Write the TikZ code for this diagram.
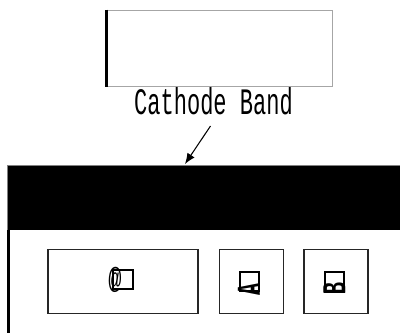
\documentclass[tikz,border=0pt]{standalone}
\usepackage{fontspec}
\setmonofont{Liberation Mono}
\usetikzlibrary{positioning,arrows.meta}

\tikzset{
  keybox/.style={shape=rectangle,draw=black!85,line width=0.8pt,fill=white,inner sep=0pt},
  keyglyph/.style={shape=rectangle,draw=black,line width=1.3pt,inner sep=0pt,minimum width=14.5pt,minimum height=14.5pt},
  keyletter/.style={font=\ttfamily\bfseries\fontsize{25}{25}\selectfont,inner sep=0pt,rotate=90,xscale=0.6},
  caption/.style={font=\ttfamily\fontsize{28}{30}\selectfont,inner sep=0pt,xscale=0.59,transform shape},
}

\begin{document}
\begin{tikzpicture}[x=0.75pt,y=-0.75pt]
  \useasboundingbox (0,0) rectangle (400,333);

  % top part, thick left edge
  \node[shape=rectangle,draw=black!35,line width=0.8pt,fill=white,minimum width=169pt,minimum height=57pt,inner sep=0pt,anchor=north west] (part) at (106.5,9.5) {};
  \draw[line width=2.2pt] (part.north west) -- (part.south west);

  \node[caption] (band) at (213.5,101.5) {Cathode Band};
  \coordinate (tail) at (210.5,126);
  \coordinate (tip) at (185,164);
  \draw[-{Latex[length=8pt,width=6.5pt]},line width=0.8pt] (tail) -- (tip);

  % body with black band
  \fill[black] (7,165.5) rectangle (400,230);
  \draw[black!50,line width=0.6pt] (400,165.5) -- (7,165.5) -- (7,230);
  \draw[line width=1.8pt] (8.5,230) -- (8.5,333);

  % keys
  \node[keybox,minimum width=112.5pt,minimum height=48.5pt] (key1) at (123,281.5) {};
  \node[keybox,minimum width=48pt,minimum height=48.5pt] (key2) at (251.5,281.5) {};
  \node[keybox,minimum width=48pt,minimum height=48.5pt] (key3) at (336,281.5) {};

  \node[keyglyph] (glyph1) at (123,279.5) {};
  \node[font=\ttfamily\fontsize{22}{22}\selectfont,inner sep=0pt,xscale=0.75] (at1) at (115,280) {@};
  \node[keyglyph] (glyph2) at (249.5,281.5) {};
  \node[keyletter] (letA) at (249,289) {A};
  \node[keyglyph] (glyph3) at (334.5,282) {};
  \node[keyletter] (letB) at (334.5,288.5) {B};
\end{tikzpicture}
\end{document}
